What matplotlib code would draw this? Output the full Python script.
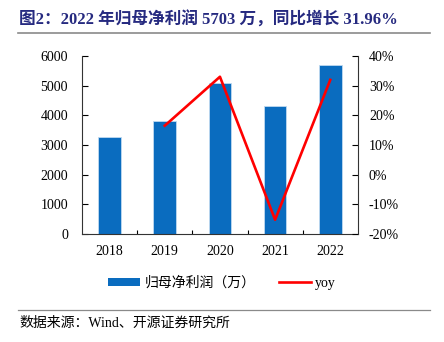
import matplotlib.pyplot as plt
from matplotlib.lines import Line2D
from matplotlib.patches import Patch
from matplotlib.ticker import FuncFormatter

plt.rcParams['font.family'] = ['Liberation Serif', 'Noto Sans CJK SC']
plt.rcParams['axes.unicode_minus'] = False

# Data
years = ['2018', '2019', '2020', '2021', '2022']
profit = [3280, 3820, 5080, 4310, 5703]          # 归母净利润（万）
yoy = [None, 16.5, 33.0, -15.2, 31.96]           # %

bar_color = '#0A6CBF'
title_color = '#262A80'

fig = plt.figure(figsize=(4.44, 3.42), dpi=100)
ax = fig.add_axes([0.1847, 0.3158, 0.6213, 0.5205])
ax2 = ax.twinx()

x = list(range(len(years)))
ax.bar(x, profit, width=0.41, color=bar_color, edgecolor='#BFD9F0', linewidth=0.6, zorder=2)
ax.set_xlim(-0.5, 4.5)
ax.set_ylim(0, 6000)
ax.set_yticks(range(0, 6001, 1000))
ax.set_xticks(x)
ax.set_xticklabels(years)
ax.set_xticks([0.5, 1.5, 2.5, 3.5], minor=True)
ax.tick_params(axis='x', which='major', length=0, pad=8, labelsize=10)
ax.tick_params(axis='x', which='minor', direction='in', length=3, width=0.8)
ax.tick_params(axis='y', direction='in', length=4, width=0.8, pad=10, labelsize=10)

xs = [i for i, v in zip(x, yoy) if v is not None]
ys = [v for v in yoy if v is not None]
ax2.plot(xs, ys, color='#FF0000', lw=1.9, zorder=3)
ax2.set_ylim(-20, 40)
ax2.set_yticks(range(-20, 41, 10))
ax2.yaxis.set_major_formatter(FuncFormatter(lambda v, p: '%d%%' % v))
ax2.tick_params(axis='y', direction='in', length=4, width=0.8, pad=8, labelsize=10)

for a in (ax, ax2):
    a.spines['top'].set_visible(False)
    for s in ('left', 'right', 'bottom'):
        a.spines[s].set_color('#333333')
        a.spines[s].set_linewidth(0.8)
ax.spines['right'].set_visible(False)
ax2.spines['left'].set_visible(False)
ax2.spines['bottom'].set_visible(False)

# Title and rules
fig.text(0.043, 0.94, '图2：2022 年归母净利润 5703 万，同比增长 31.96%',
         fontsize=12, fontweight='bold', color=title_color, va='center', ha='left')
fig.add_artist(Line2D([0.041, 0.968], [0.903, 0.903], color='#8A8A8A', lw=1.2))
fig.add_artist(Line2D([0.041, 0.968], [0.094, 0.094], color='#8A8A8A', lw=0.9))
fig.text(0.043, 0.055, '数据来源：Wind、开源证券研究所', fontsize=10, va='center', ha='left')

handles = [Patch(facecolor=bar_color, edgecolor='none'),
           Line2D([0], [0], color='#FF0000', lw=1.9)]
fig.legend(handles, ['归母净利润（万）', 'yoy'], loc='center', bbox_to_anchor=(0.5, 0.172),
           ncol=2, frameon=False, fontsize=10, handlelength=2.3, handleheight=0.55,
           columnspacing=1.7, handletextpad=0.3)

fig.savefig('out.png', dpi=100)
